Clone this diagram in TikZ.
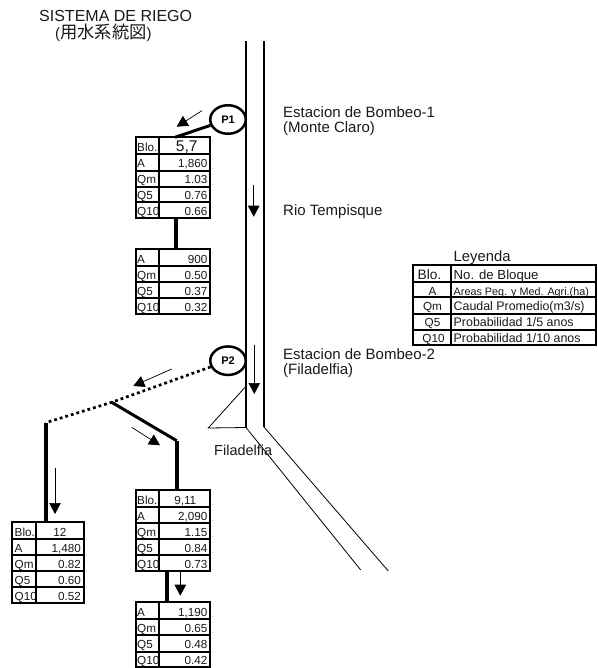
\documentclass[tikz,border=0pt]{standalone}
\usepackage{fontspec}
\setmainfont{Liberation Sans}
\newfontfamily\cjk{Noto Sans CJK JP}
\usetikzlibrary{arrows.meta,calc,shapes.geometric}
\tikzset{
  txt/.style={inner sep=0pt,anchor=base west,font=\fontsize{15}{17}\selectfont,text=black!90},
  cellL/.style={inner sep=0pt,anchor=base west,font=\fontsize{11.7}{13}\selectfont,text=black!90},
  cellR/.style={inner sep=0pt,anchor=base east,font=\fontsize{11.7}{13}\selectfont,text=black!90},
  cellC/.style={inner sep=0pt,anchor=base,font=\fontsize{11.7}{13}\selectfont,text=black!90},
  tblbox/.style={draw=black,line width=2pt,inner sep=0pt,outer sep=0pt,anchor=north west},
  rule/.style={draw=black,line width=1.7pt},
  river/.style={draw=black,line width=2pt},
  thinl/.style={draw=black,line width=0.8pt},
  pump/.style={draw=black,line width=2.5pt,ellipse,inner sep=0pt,minimum width=35.5pt,minimum height=28.5pt,font=\fontsize{11}{12}\selectfont\bfseries},
  feed/.style={draw=black,line width=3pt},
  trunk/.style={draw=black,line width=4pt},
  dotline/.style={draw=black,line width=2.7pt,dash pattern=on 2.8pt off 3pt},
  flow/.style={draw=black,line width=0.7pt,-{Triangle[length=11pt,width=11.5pt]}},
}
\newcommand{\tbl}[6]{%
  \node[tblbox,minimum width=#4pt-#2pt,minimum height=#6pt-#5pt] (#1) at (#2,#5) {};
}
\begin{document}
\begin{tikzpicture}[x=1pt,y=-1pt]
\useasboundingbox (0,0) rectangle (597,668);
% titles
\node[txt,font=\fontsize{16}{18}\selectfont] (title) at (39,22) {SISTEMA DE RIEGO};
\node[txt,font=\fontsize{15}{18}\selectfont] (subtitle) at (55,38.5) {(\cjk\fontsize{17.3}{18}\selectfont 用水系統図\rmfamily\fontsize{15}{18}\selectfont)};
% river
\coordinate (rlt) at (246,41); \coordinate (rlb) at (246,427.5);
\coordinate (rrt) at (264,41); \coordinate (rrb) at (264,427);
\coordinate (rle) at (360.7,570); \coordinate (rre) at (388.3,571);
\coordinate (tria) at (245,387.3); \coordinate (trib) at (208.3,428);
\draw[river] (rlt) -- (rlb);
\draw[river] (rrt) -- (rrb);
\draw[thinl] (rlb) -- (rle);
\draw[thinl] (rrb) -- (rre);
\draw[thinl] (tria) -- (trib) -- (rlb);
% pumps
\node[pump,fill=white] (p1) at (228,119.5) {P1};
\node[pump,fill=white] (p2) at (228,360.7) {P2};
% tables
\tbl{t1}{135.5}{159}{210}{137.3}{217.7}
\tbl{t2}{135.5}{159}{210}{249.3}{314}
\tbl{t3}{12}{35.7}{84}{522.3}{603.3}
\tbl{t4}{135.5}{159}{210}{490}{570.7}
\tbl{t5}{135.5}{159}{210}{602.3}{667}
\tbl{leg}{413.3}{450.7}{596}{265}{345.3}
% rows
\foreach \y in {154.3,170.7,186.7,202} \draw[rule] (135.5,\y) -- (210,\y);
\foreach \y in {265.7,281.7,297.7} \draw[rule] (135.5,\y) -- (210,\y);
\foreach \y in {539,555,571,587.3} \draw[rule] (12,\y) -- (84,\y);
\foreach \y in {506.7,522.7,539,555} \draw[rule] (135.5,\y) -- (210,\y);
\foreach \y in {619.3,635.3,651.7} \draw[rule] (135.5,\y) -- (210,\y);
\foreach \y in {281.7,297.3,314,330} \draw[rule] (413.3,\y) -- (596,\y);
% cell text
\foreach \lab/\val/\y in {Blo./{}/151.3,A/{1,860}/167.3,Qm/1.03/183.2,Q5/0.76/199.3,Q10/0.66/215}
  {\node[cellL] (t1\lab) at (137,\y) {\lab}; \node[cellR] (t1v\lab) at (207.5,\y) {\val};}
\node[cellC,font=\fontsize{15.5}{17}\selectfont] (t1blo) at (186.7,151.3) {5,7};
\foreach \lab/\val/\y in {A/900/263.3,Qm/0.50/279.3,Q5/0.37/295.3,Q10/0.32/311.3}
  {\node[cellL] (t2\lab) at (137,\y) {\lab}; \node[cellR] (t2v\lab) at (207.5,\y) {\val};}
\foreach \lab/\val/\y in {Blo./{}/536,A/{1,480}/552,Qm/0.82/568,Q5/0.60/584.3,Q10/0.52/600}
  {\node[cellL] (t3\lab) at (14.5,\y) {\lab}; \node[cellR] (t3v\lab) at (81,\y) {\val};}
\node[cellC] (t3blo) at (60,536) {12};
\foreach \lab/\val/\y in {Blo./{}/504,A/{2,090}/520.3,Qm/1.15/536,Q5/0.84/552.3,Q10/0.73/568}
  {\node[cellL] (t4\lab) at (137,\y) {\lab}; \node[cellR] (t4v\lab) at (207.5,\y) {\val};}
\node[cellC] (t4blo) at (185.3,504) {9,11};
\foreach \lab/\val/\y in {A/{1,190}/616,Qm/0.65/632,Q5/0.48/648.3,Q10/0.42/664}
  {\node[cellL] (t5\lab) at (137,\y) {\lab}; \node[cellR] (t5v\lab) at (207.5,\y) {\val};}
% dividers drawn over text
\draw[rule] (159,137.3) -- (159,217.7);
\draw[rule] (159,249.3) -- (159,314);
\draw[rule] (35.7,522.3) -- (35.7,603.3);
\draw[rule] (159,490) -- (159,570.7);
\draw[rule] (159,602.3) -- (159,667);
\draw[rule] (450.7,265) -- (450.7,345.3);
% legend
\node[txt,font=\fontsize{14.8}{16}\selectfont] (legt) at (453.5,261) {Leyenda};
\node[cellC,font=\fontsize{13.7}{15}\selectfont] (l1) at (429.5,279) {Blo.};
\node[cellC] (l2) at (432.5,295) {A};
\node[cellC] (l3) at (432.5,310.7) {Qm};
\node[cellC] (l4) at (432.5,326.7) {Q5};
\node[cellC] (l5) at (433.5,342.3) {Q10};
\node[cellL,font=\fontsize{13.2}{15}\selectfont] (m1) at (453.5,279) {No. de Bloque};
\node[cellL,font=\fontsize{10.8}{12}\selectfont] (m2) at (453.5,295) {Areas Peq. y Med. Agri.(ha)};
\node[cellL,font=\fontsize{12.4}{14}\selectfont] (m3) at (453.5,310.7) {Caudal Promedio(m3/s)};
\node[cellL,font=\fontsize{12.4}{14}\selectfont] (m4) at (453.5,326.7) {Probabilidad 1/5 anos};
\node[cellL,font=\fontsize{12.4}{14}\selectfont] (m5) at (453.5,342.3) {Probabilidad 1/10 anos};
% labels
\node[txt] (s1a) at (283,118) {Estacion de Bombeo-1};
\node[txt] (s1b) at (283,133) {(Monte Claro)};
\node[txt] (rio) at (283,215) {Rio Tempisque};
\node[txt] (s2a) at (283,359.3) {Estacion de Bombeo-2};
\node[txt] (s2b) at (283,374.3) {(Filadelfia)};
\node[txt,font=\fontsize{14.5}{16}\selectfont] (fil) at (214,455) {Filadelfia};
% connectors
\coordinate (t1in) at (175,137);
\draw[feed] (p1) -- (t1.north -| t1in);
\coordinate (t12) at (176,0);
\draw[trunk] (t1.south -| t12) -- (t2.north -| t12);
\coordinate (junc) at (111.7,402.3);
\coordinate (dotend) at (45.7,422.7);
\draw[dotline] (p2) -- (junc) -- (dotend);
\draw[trunk] (dotend) -- (t3.north -| dotend);
\coordinate (bend) at (176.7,440.7);
\draw[feed] (junc) -- (bend);
\draw[trunk] (bend) -- (t4.north -| bend);
\coordinate (t45) at (167,0);
\draw[trunk] (t4.south -| t45) -- (t5.north -| t45);
% flow arrows
\coordinate (a1s) at (202,110.7); \coordinate (a1e) at (176.7,126.7);
\draw[flow] (a1s) -- (a1e);
\coordinate (a2s) at (253.7,185); \coordinate (a2e) at (253.7,216.7);
\draw[flow] (a2s) -- (a2e);
\coordinate (a3s) at (254.3,345); \coordinate (a3e) at (254.3,394);
\draw[flow] (a3s) -- (a3e);
\coordinate (a4s) at (171.7,369); \coordinate (a4e) at (133.3,386);
\draw[flow] (a4s) -- (a4e);
\coordinate (a5s) at (131.7,427.3); \coordinate (a5e) at (160,445.3);
\draw[flow] (a5s) -- (a5e);
\coordinate (a6s) at (55,467.7); \coordinate (a6e) at (55,514);
\draw[flow] (a6s) -- (a6e);
\coordinate (a7s) at (180.3,571.7); \coordinate (a7e) at (180.3,595.7);
\draw[flow] (a7s) -- (a7e);
\end{tikzpicture}
\end{document}
